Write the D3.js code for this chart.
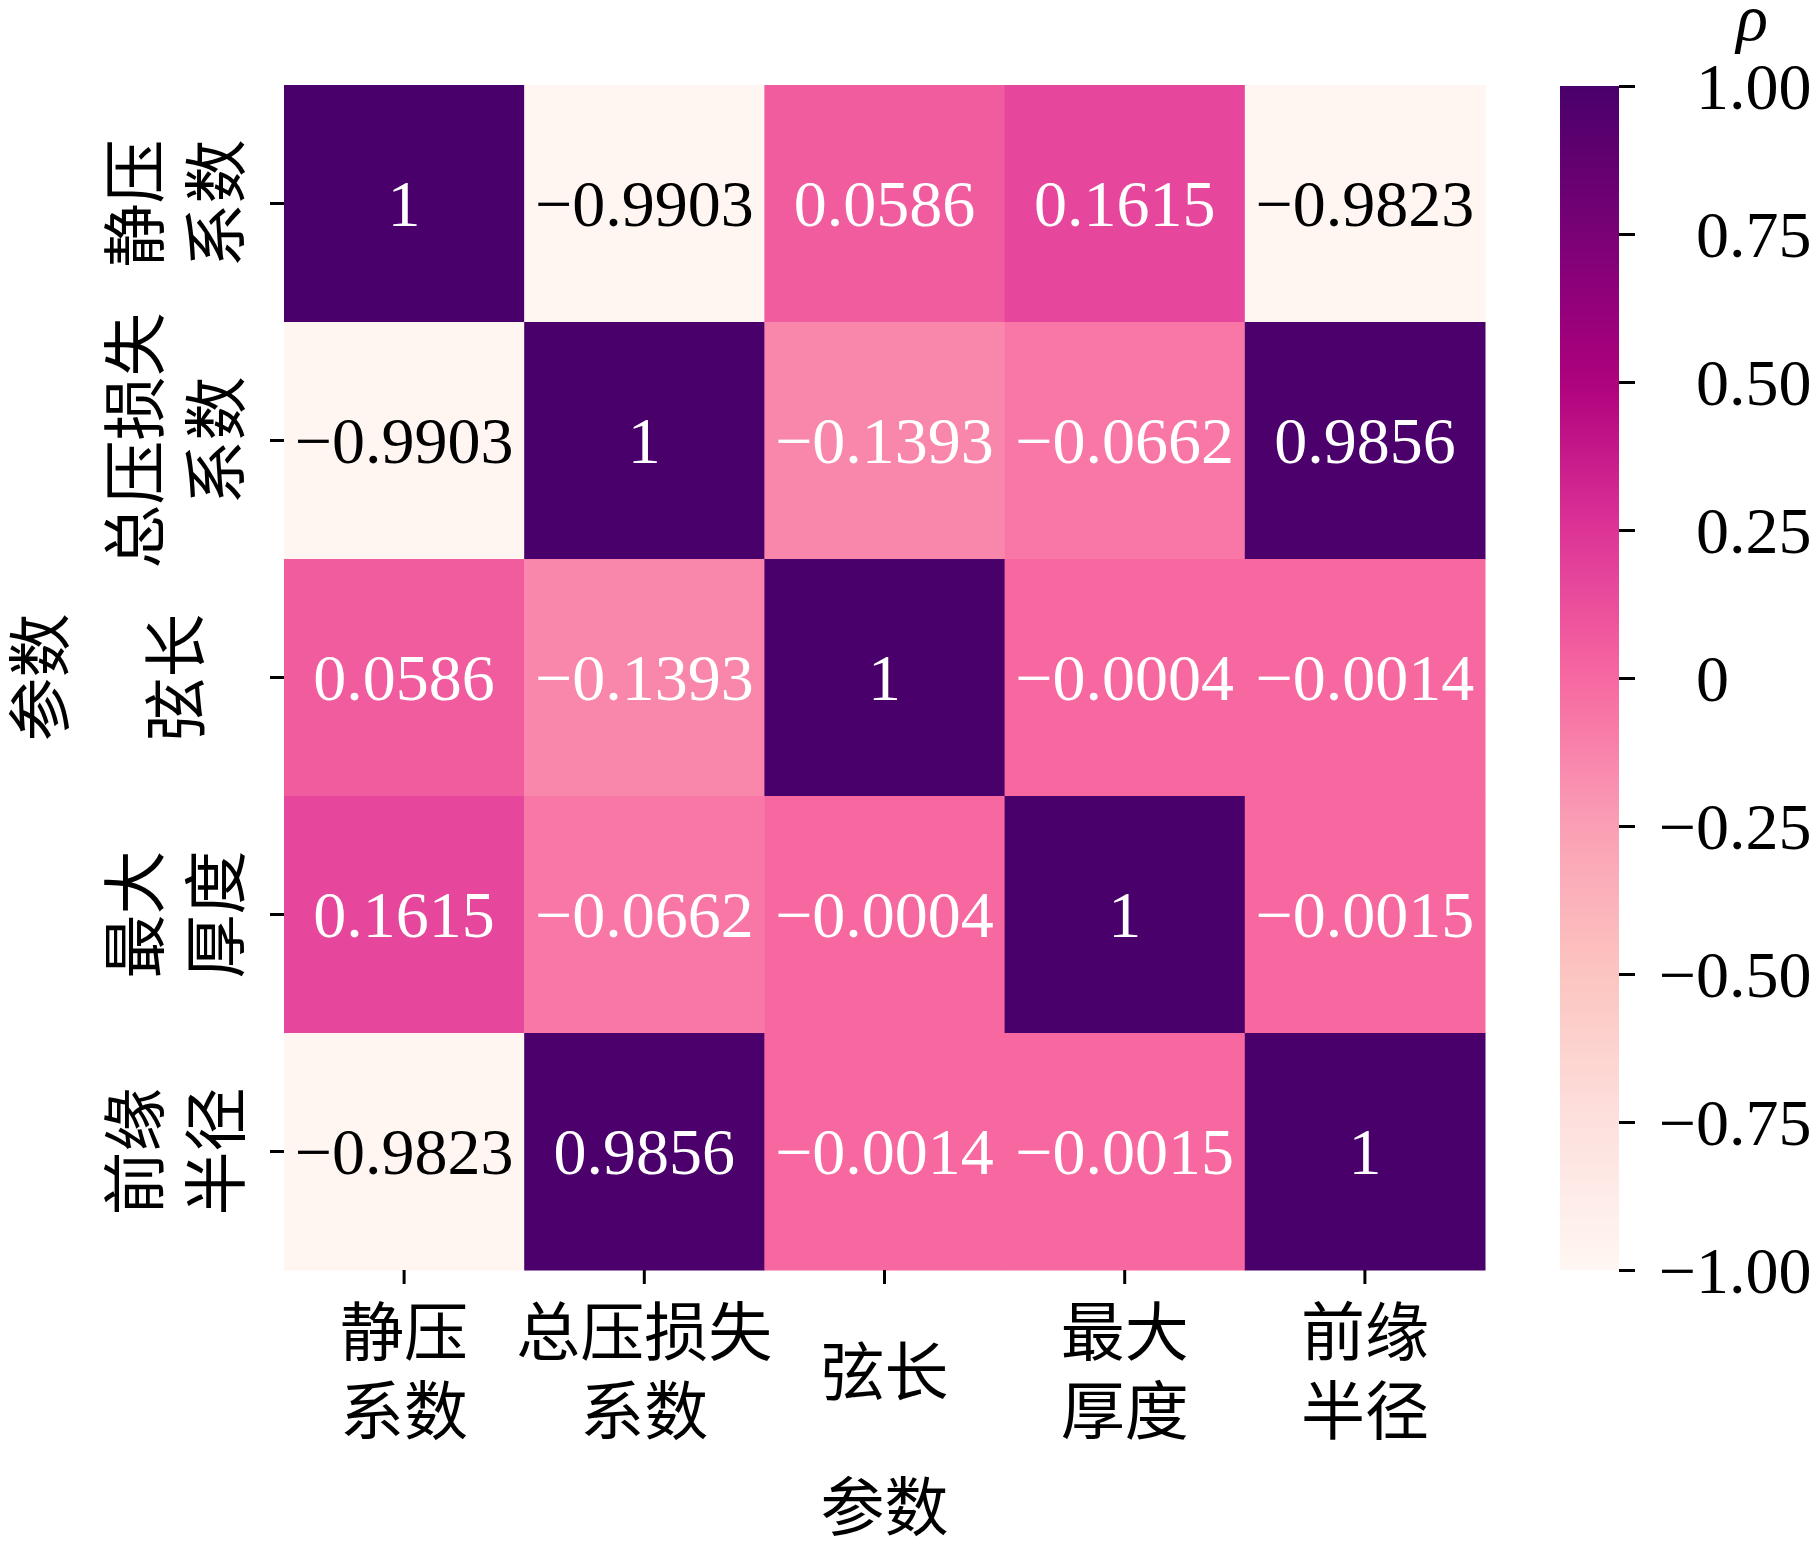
<!DOCTYPE html>
<html>
<head>
<meta charset="utf-8">
<script src="https://cdn.jsdelivr.net/npm/d3@7"></script>
<style>
  body { margin: 0; background: #fff; }
  text { font-family: "Liberation Serif", "Noto Sans CJK SC", serif; fill: #000; }
</style>
</head>
<body>
<svg id="chart"></svg>
<script>
// Parameter names (rows and columns share the same order)
const params = ["静压\n系数", "总压损失\n系数", "弦长", "最大\n厚度", "前缘\n半径"];

// Correlation matrix, one array per row
const row1 = [1, -0.9903, 0.0586, 0.1615, -0.9823];
const row2 = [-0.9903, 1, -0.1393, -0.0662, 0.9856];
const row3 = [0.0586, -0.1393, 1, -0.0004, -0.0014];
const row4 = [0.1615, -0.0662, -0.0004, 1, -0.0015];
const row5 = [-0.9823, 0.9856, -0.0014, -0.0015, 1];
const matrix = [row1, row2, row3, row4, row5];

// Colorbar ticks
const cbarTicks = [-1, -0.75, -0.5, -0.25, 0, 0.25, 0.5, 0.75, 1];
const cbarTickLabels = ["−1.00", "−0.75", "−0.50", "−0.25", "0", "0.25", "0.50", "0.75", "1.00"];

const axisTitle = "参数";
const cbarTitle = "ρ";

// matplotlib RdPu anchor colours
const rdpu = ["#fff7f3", "#fde0dd", "#fcc5c0", "#fa9fb5", "#f768a1", "#dd3497", "#ae017e", "#7a0177", "#49006a"];

const width = 1819;
const height = 1552;
const hm = { left: 284, top: 85, right: 1485, bottom: 1270 };
const cbar = { left: 1560, right: 1619, top: 86, bottom: 1270 };
const numFont = 66;
const cjkFont = 64;

const svg = d3.select("#chart")
    .attr("width", width)
    .attr("height", height);

const color = d3.scaleLinear()
    .domain(d3.range(rdpu.length).map(i => -1 + 2 * i / (rdpu.length - 1)))
    .range(rdpu)
    .interpolate(d3.interpolateRgb)
    .clamp(true);

const keys = params.map((d, i) => i);
const x = d3.scaleBand().domain(keys).range([hm.left, hm.right]);
const y = d3.scaleBand().domain(keys).range([hm.top, hm.bottom]);

const cells = [];
matrix.forEach((row, r) => row.forEach((v, c) => cells.push({ r, c, v })));

// seaborn style: dark text on light cells
function luminance(c) {
    const rgb = d3.rgb(c);
    const lin = [rgb.r, rgb.g, rgb.b].map(u => {
        u /= 255;
        return u <= 0.03928 ? u / 12.92 : Math.pow((u + 0.055) / 1.055, 2.4);
    });
    return 0.2126 * lin[0] + 0.7152 * lin[1] + 0.0722 * lin[2];
}

function fmt(v) {
    const s = v === 1 ? "1" : v.toFixed(4);
    return s.replace("-", "−");
}

// Cells
svg.append("g").selectAll("rect")
    .data(cells)
    .enter()
    .append("rect")
    .attr("x", d => x(d.c))
    .attr("y", d => y(d.r))
    .attr("width", x.bandwidth() + 0.5)
    .attr("height", y.bandwidth() + 0.5)
    .attr("fill", d => color(d.v));

// Annotations
svg.append("g").selectAll("text")
    .data(cells)
    .enter()
    .append("text")
    .attr("x", d => x(d.c) + x.bandwidth() / 2)
    .attr("y", d => y(d.r) + y.bandwidth() / 2)
    .attr("text-anchor", "middle")
    .attr("dy", "0.34em")
    .style("font-size", numFont + "px")
    .style("fill", d => luminance(color(d.v)) > 0.408 ? "#000" : "#fff")
    .text(d => fmt(d.v));

// Y axis
const yAxis = svg.append("g")
    .attr("transform", `translate(${hm.left},0)`)
    .call(d3.axisLeft(y).tickSize(14).tickFormat(""));
yAxis.select(".domain").remove();
yAxis.selectAll(".tick line").attr("stroke", "#000").attr("stroke-width", 3);
yAxis.selectAll(".tick").each(function(d) {
    const lines = params[d].split("\n");
    const g = d3.select(this);
    lines.forEach((ln, i) => {
        const cx = -107 + (i - (lines.length - 1) / 2) * 81;
        g.append("text")
            .attr("transform", `translate(${cx},0) rotate(-90)`)
            .attr("text-anchor", "middle")
            .attr("dominant-baseline", "central")
            .style("font-size", cjkFont + "px")
            .text(ln);
    });
});

// X axis
const xAxis = svg.append("g")
    .attr("transform", `translate(0,${hm.bottom})`)
    .call(d3.axisBottom(x).tickSize(14).tickFormat(""));
xAxis.select(".domain").remove();
xAxis.selectAll(".tick line").attr("stroke", "#000").attr("stroke-width", 3);
xAxis.selectAll(".tick").each(function(d) {
    const lines = params[d].split("\n");
    const g = d3.select(this);
    lines.forEach((ln, i) => {
        const cy = 103 + (i - (lines.length - 1) / 2) * 79;
        g.append("text")
            .attr("x", 0)
            .attr("y", cy)
            .attr("text-anchor", "middle")
            .attr("dominant-baseline", "central")
            .style("font-size", cjkFont + "px")
            .text(ln);
    });
});

// Axis titles
svg.append("text")
    .attr("x", (hm.left + hm.right) / 2)
    .attr("y", 1508)
    .attr("text-anchor", "middle")
    .attr("dominant-baseline", "central")
    .style("font-size", cjkFont + "px")
    .text(axisTitle);

svg.append("text")
    .attr("transform", `translate(41,${(hm.top + hm.bottom) / 2}) rotate(-90)`)
    .attr("text-anchor", "middle")
    .attr("dominant-baseline", "central")
    .style("font-size", cjkFont + "px")
    .text(axisTitle);

// Colorbar
const cScale = d3.scaleLinear().domain([-1, 1]).range([cbar.bottom, cbar.top]);

const grad = svg.append("defs")
    .append("linearGradient")
    .attr("id", "cbar-grad")
    .attr("x1", 0).attr("y1", 1)
    .attr("x2", 0).attr("y2", 0);
grad.selectAll("stop")
    .data(d3.range(0, 1.0001, 0.02))
    .enter()
    .append("stop")
    .attr("offset", d => d)
    .attr("stop-color", d => color(-1 + 2 * d));

svg.append("rect")
    .attr("x", cbar.left)
    .attr("y", cbar.top)
    .attr("width", cbar.right - cbar.left)
    .attr("height", cbar.bottom - cbar.top)
    .attr("fill", "url(#cbar-grad)");

const cAxis = svg.append("g")
    .attr("transform", `translate(${cbar.right},0)`)
    .call(d3.axisRight(cScale)
        .tickValues(cbarTicks)
        .tickSize(16)
        .tickPadding(61)
        .tickFormat((d, i) => cbarTickLabels[i]));
cAxis.select(".domain").remove();
cAxis.selectAll(".tick line").attr("stroke", "#000").attr("stroke-width", 3);
cAxis.selectAll(".tick text")
    .attr("font-family", null)
    .attr("font-size", null)
    .attr("fill", null)
    .attr("dy", "0.34em")
    .style("font-size", numFont + "px");

// minus signs hang to the left of the digits
const probe = svg.append("text").style("font-size", numFont + "px").text("−");
const minusW = probe.node().getComputedTextLength();
probe.remove();
cAxis.selectAll(".tick text")
    .attr("dx", (d, i) => cbarTickLabels[i].startsWith("−") ? -minusW : 0);

svg.append("text")
    .attr("x", 1752)
    .attr("y", 40)
    .attr("text-anchor", "middle")
    .style("font-size", numFont + "px")
    .style("font-style", "italic")
    .text(cbarTitle);
</script>
</body>
</html>
